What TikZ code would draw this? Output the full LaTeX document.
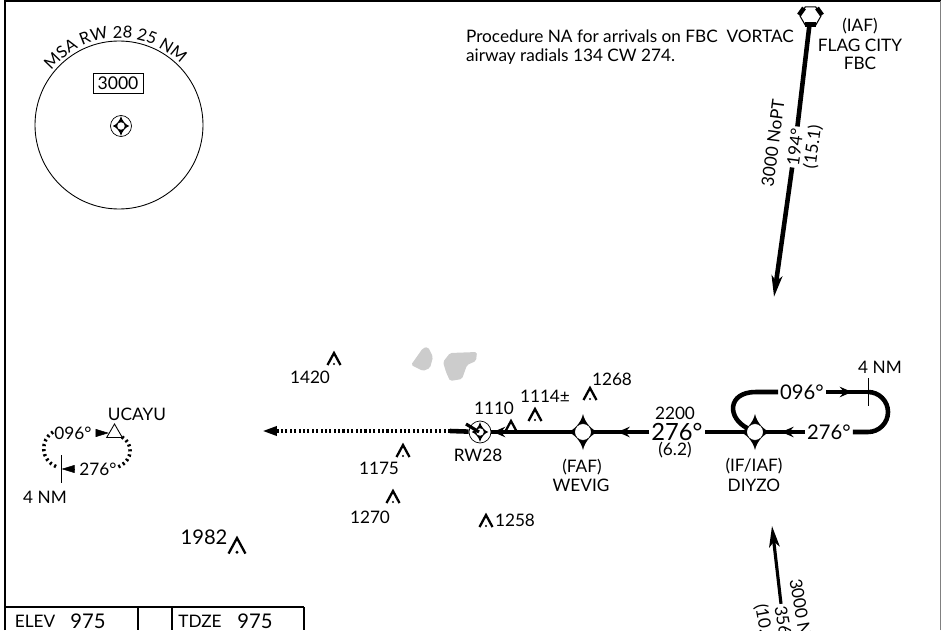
\documentclass[tikz,border=0pt]{standalone}
\usepackage{fontspec}
\setmainfont{Lato}
\usepackage{tikz}
\usetikzlibrary{arrows.meta,decorations.text,decorations.markings,shapes.geometric}

\newcommand{\fixstar}[3]{\fill[shift={(#1,#2)},scale=#3] (0,18) .. controls (2,9) and (9,2) .. (15,0) .. controls (9,-2) and (2,-9) .. (0,-18) .. controls (-2,-9) and (-9,-2) .. (-15,0) .. controls (-9,2) and (-2,9) .. (0,18);}
\newcommand{\obst}[3]{\draw[line width=1.3pt,shift={(#1,#2)},scale=#3] (-6.5,-12) -- (0,0) -- (6.5,-12); \fill[shift={(#1,#2)},scale=#3] (0,-11) circle (1.2);}

\tikzset{
    txt/.style={inner sep=1pt,font=\fontsize{9.8}{10.8}\selectfont},
    big/.style={inner sep=1pt,font=\fontsize{13.5}{15}\selectfont},
    mid/.style={inner sep=1pt,font=\fontsize{11.5}{13}\selectfont},
    leg/.style={line width=2.6pt},
    fixpt/.style={shape=circle,draw,line width=0.2pt,fill=white,inner sep=0pt,minimum size=0.33cm},
    fixrw/.style={shape=circle,draw,fill=white,inner sep=0pt,minimum size=0.44cm,line width=0.4pt},
    fixdot/.style={shape=circle,fill=white,inner sep=0pt,minimum size=0.15cm},
    midtip/.style={postaction={decorate},decoration={markings,mark=at position #1 with {\arrow{Stealth[length=7pt,width=6pt,inset=2.5pt]}}}},
    legtip/.style={-{Stealth[length=12pt,width=6pt,inset=3pt]}},
    wedge/.style={line width=0.3pt,shorten <=2.5pt,-{Triangle[length=7.5pt,width=4.5pt]}},
    dots/.style={line width=2.2pt,dash pattern=on 1.2pt off 1.3pt}
}

\begin{document}
\begin{tikzpicture}[x=0.02cm,y=0.02cm]
    \useasboundingbox (0,0) rectangle (941,630);

    \draw[line width=1.4pt] (5,0) -- (5,629) -- (941,629);
    \draw[line width=0.4pt,gray] (940,0) -- (940,629);

    \draw[line width=0.5pt] (119,505) circle (84);
    \path[decorate,decoration={text along path,text align=center,text={|\fontsize{9.4}{12}\selectfont|MSA RW 28 25 NM}}]
        (119,505) ++(146:87) arc[start angle=146,end angle=40,radius=87];
    \node[draw,line width=0.5pt,minimum width=1cm,minimum height=0.4cm,inner sep=0pt,font=\fontsize{10}{12}\selectfont] (msaalt) at (118,547) {3000};
    \node[fixrw,minimum size=0.42cm] (msactr) at (121,504) {};
    \fixstar{121}{504}{0.55}
    \node[fixdot] (msadot) at (121,504) {};

    \node[txt,anchor=west,align=left] (note) at (464,583) {Procedure NA for arrivals on FBC\ \ VORTAC\\airway radials 134 CW 274.};

    \fill[gray!40,rounded corners=1pt] (411,265) -- (423,282) -- (428,283) -- (433,273) -- (430,262) -- (423,259) -- cycle;
    \fill[gray!40,rounded corners=1pt] (443,268) -- (450,277) -- (477,278) -- (476,269) -- (467,265) -- (462,251) -- (450,249) -- (446,258) -- cycle;

    \node[txt] (iaf) at (860,604) {(IAF)};
    \node[txt] (flag) at (860,585) {FLAG CITY};
    \node[txt] (fbclbl) at (860,567) {FBC};
    \node[shape=regular polygon,regular polygon sides=6,draw,line width=0.6pt,minimum size=0.42cm,inner sep=0pt] (fbc) at (810.5,614) {};
    \draw[line width=2.6pt] (799,615) -- (804,622);
    \draw[line width=2.6pt] (822,615) -- (817,622);
    \draw[line width=2.6pt] (805,605.5) -- (816,605.5);

    \node[txt,rotate=82.5] (crs194) at (795,483) {194°};
    \node[txt,rotate=82.5] (alt194) at (773,487) {3000 NoPT};
    \node[txt,rotate=82.5] (dst194) at (813,483) {(15.1)};
    \coordinate (tip194) at (774,333);
    \path[leg] (fbc) edge (crs194);
    \path[leg] (crs194) edge[legtip] (tip194);

    \node[txt,rotate=-80,anchor=west] (crs356) at (780,26) {356};
    \node[txt,rotate=-80,anchor=west] (alt356) at (795,53) {3000 N};
    \node[txt,rotate=-80,anchor=west] (dst356) at (760,28) {(10.};
    \coordinate (tip356) at (772,104);
    \path[line width=1.8pt] (crs356) edge[legtip] (tip356);

    \fixstar{755}{198}{1}
    \node[fixpt] (diyzo) at (755,198) {};
    \fixstar{583}{198}{1}
    \node[fixpt] (wevig) at (583,198) {};
    \node[fixrw] (rw28) at (480,198) {};
    \fixstar{480}{198}{0.55}
    \node[fixdot] (rwdot) at (480,198) {};

    \node[big] (crs276) at (677,198) {276°};
    \node[mid] (crshold) at (829,198) {276°};
    \node[mid] (crsout) at (802,238) {096°};
    \coordinate (holdne) at (868,238);
    \coordinate (holdnw) at (756,238);
    \coordinate (mapt) at (450,199);
    \coordinate (maend) at (262,199);

    \path[leg] (crsout) edge[midtip=0.62] (holdne);
    \draw[leg] (holdne) arc[start angle=90,end angle=-90,radius=20] -- (crshold);
    \path[leg] (crshold) edge[midtip=0.57] (diyzo);
    \draw[leg] (crsout) -- (holdnw) .. controls (727,238) and (727,212) .. (diyzo);
    \path[leg] (diyzo) edge (crs276);
    \path[leg] (crs276) edge[midtip=0.55] (wevig);
    \path[leg] (wevig) edge[midtip=0.98] (rw28);
    \path[leg] (rw28) edge (mapt);
    \draw[dots,-{Triangle[length=8.5pt,width=5pt]}] (mapt) -- (maend);
    \draw[line width=1.8pt] (466,206) -- (479,198);
    \draw[line width=0.5pt] (868,252) -- (868,224);

    \node[txt] (alt2200) at (675,217) {2200};
    \node[txt] (dst62) at (675,180) {(6.2)};
    \node[txt] (nm4) at (880,263) {4 NM};
    \node[txt] (faf) at (582,163) {(FAF)};
    \node[txt] (wevlbl) at (581,145) {WEVIG};
    \node[txt] (ifiaf) at (754,164) {(IF/IAF)};
    \node[txt] (diylbl) at (754,145) {DIYZO};
    \node[txt] (rwlbl) at (478,175) {RW28};

    \obst{334}{277}{1}
    \node[txt] (e1420) at (310,253) {1420};
    \obst{403}{185}{1}
    \node[txt] (e1175) at (379,162) {1175};
    \obst{393}{139}{1}
    \node[txt] (e1270) at (370,113) {1270};
    \obst{486}{115}{1}
    \node[txt] (e1258) at (515,110) {1258};
    \obst{535}{221}{1}
    \node[txt] (e1114) at (545,234) {1114±};
    \obst{590}{242}{1}
    \node[txt] (e1268) at (612,251) {1268};
    \obst{511}{209}{1}
    \node[txt] (e1110) at (494,222) {1110};
    \obst{237}{92}{1.3}
    \node[mid] (e1982) at (204,93) {1982};

    \node[shape=regular polygon,regular polygon sides=3,draw,line width=0.5pt,inner sep=0pt,minimum size=0.36cm] (ucayu) at (114.5,197) {};
    \node[txt] (uclbl) at (137,216) {UCAYU};
    \node[txt] (ucout) at (73,197) {096°};
    \node[txt] (uchold) at (98,161) {276°};
    \coordinate (uctick) at (61.5,161);
    \path (ucout) edge[wedge] (ucayu);
    \path (uchold) edge[wedge] (uctick);
    \draw[line width=0.5pt] (61,175) -- (61,147);
    \node[txt] (ucnm) at (45,133) {4 NM};
    \draw[line width=2pt,dash pattern=on 1.2pt off 1.7pt] (122,193) .. controls (133,187) and (134,170) .. (118,163);
    \draw[line width=2pt,dash pattern=on 1.2pt off 1.7pt] (53,198) .. controls (40,190) and (40,170) .. (57,163);

    \draw[line width=1pt] (5,23) -- (304,23);
    \draw[line width=0.8pt] (138,23) -- (138,0);
    \draw[line width=0.8pt] (172,23) -- (172,0);
    \draw[line width=1pt] (304,23) -- (304,0);
    \node[txt] (elev) at (35,9) {ELEV};
    \node[mid] (elevval) at (88,9) {975};
    \node[txt] (tdze) at (200,9) {TDZE};
    \node[mid] (tdzeval) at (255,9) {975};
\end{tikzpicture}
\end{document}
